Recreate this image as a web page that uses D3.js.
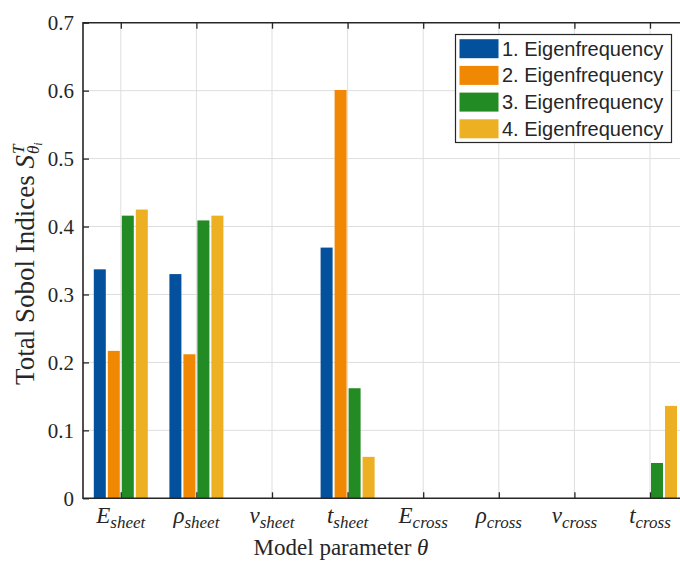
<html>
<head>
  <script src="https://d3js.org/d3.v7.min.js"></script>
  <style>
    body { margin: 0; background: #fff; }
    svg text { fill: #262626; }
  </style>
</head>
<body>
<svg id="chart"></svg>
<script type="text/javascript">
// chart data
var params = [
  { sym: "E", sub: "sheet" },
  { sym: "\u03C1", sub: "sheet" },
  { sym: "\u03BD", sub: "sheet" },
  { sym: "t", sub: "sheet" },
  { sym: "E", sub: "cross" },
  { sym: "\u03C1", sub: "cross" },
  { sym: "\u03BD", sub: "cross" },
  { sym: "t", sub: "cross" }
];
var seriesNames = ["1. Eigenfrequency", "2. Eigenfrequency", "3. Eigenfrequency", "4. Eigenfrequency"];
var eig1 = [0.337, 0.330, 0, 0.369, 0, 0, 0, 0];
var eig2 = [0.217, 0.212, 0, 0.601, 0, 0, 0, 0];
var eig3 = [0.416, 0.409, 0, 0.162, 0, 0, 0, 0.052];
var eig4 = [0.425, 0.416, 0, 0.061, 0, 0, 0, 0.136];
var yTicks = [0, 0.1, 0.2, 0.3, 0.4, 0.5, 0.6, 0.7];
var colors = ["#03509d", "#f08804", "#238b23", "#edb022"];

var series = [eig1, eig2, eig3, eig4];

var w = 680;
var h = 563;
var padLeft = 83, padTop = 22.7, padBottom = 498.3;

var svg = d3.select("#chart")
    .attr("width", w)
    .attr("height", h);

var xScale = d3.scaleLinear()
    .domain([0.5, 8.5])
    .range([padLeft, padLeft + 8 * 75.6]);
var padRight = xScale(8.5);

var yScale = d3.scaleLinear()
    .domain([0, 0.7])
    .range([padBottom, padTop]);

// grid lines
svg.append("g")
    .selectAll("line")
    .data(d3.range(1, 9))
    .enter()
    .append("line")
    .attr("x1", function (d) { return xScale(d); })
    .attr("x2", function (d) { return xScale(d); })
    .attr("y1", padTop)
    .attr("y2", padBottom)
    .attr("stroke", "#dedede")
    .attr("stroke-width", 1);

svg.append("g")
    .selectAll("line")
    .data(yTicks.slice(1, -1))
    .enter()
    .append("line")
    .attr("x1", padLeft)
    .attr("x2", padRight)
    .attr("y1", function (d) { return yScale(d); })
    .attr("y2", function (d) { return yScale(d); })
    .attr("stroke", "#dedede")
    .attr("stroke-width", 1);

// bars
var barStep = 14 / 75.6;
var barW = xScale(0.5 + 12 / 75.6) - xScale(0.5);
series.forEach(function (vals, si) {
    svg.append("g")
        .selectAll("rect")
        .data(vals)
        .enter()
        .append("rect")
        .attr("x", function (d, i) { return xScale(i + 1 + (si - 1.5) * barStep) - barW / 2; })
        .attr("y", function (d) { return yScale(d); })
        .attr("width", barW)
        .attr("height", function (d) { return yScale(0) - yScale(d); })
        .attr("fill", colors[si]);
});

// axes
var yAxis = d3.axisLeft(yScale)
    .tickValues(yTicks)
    .tickFormat(function (d) { return d === 0 ? "0" : d3.format(".1f")(d); })
    .tickSizeInner(-6)
    .tickSizeOuter(0)
    .tickPadding(9);

var gy = svg.append("g")
    .attr("transform", "translate(" + padLeft + ",0)")
    .call(yAxis);
gy.select(".domain").remove();
gy.selectAll("line").attr("stroke", "#262626").attr("stroke-width", 1.3);
gy.selectAll("text")
    .style("font-family", "'Liberation Serif', serif")
    .style("font-size", "21px")
    .attr("fill", "#262626");

var xAxis = d3.axisBottom(xScale)
    .tickValues(d3.range(1, 9))
    .tickFormat("")
    .tickSizeInner(-6)
    .tickSizeOuter(0);

var gx = svg.append("g")
    .attr("transform", "translate(0," + padBottom + ")")
    .call(xAxis);
gx.select(".domain").remove();
gx.selectAll("line").attr("stroke", "#262626").attr("stroke-width", 1.3);

var xAxisTop = d3.axisTop(xScale)
    .tickValues(d3.range(1, 9))
    .tickFormat("")
    .tickSizeInner(-6)
    .tickSizeOuter(0);
var gxt = svg.append("g")
    .attr("transform", "translate(0," + padTop + ")")
    .call(xAxisTop);
gxt.select(".domain").remove();
gxt.selectAll("line").attr("stroke", "#262626").attr("stroke-width", 1.3);

// box
svg.append("path")
    .attr("d", "M" + padRight + "," + padTop + "H" + padLeft + "V" + padBottom + "H" + padRight)
    .attr("fill", "none")
    .attr("stroke", "#262626")
    .attr("stroke-width", 1.6);

// x tick labels with subscripts
var xl = svg.append("g")
    .selectAll("text")
    .data(params)
    .enter()
    .append("text")
    .attr("x", function (d, i) { return xScale(i + 1); })
    .attr("y", 523)
    .attr("text-anchor", "middle")
    .style("font-family", "'Liberation Serif', serif")
    .style("font-style", "italic");
xl.append("tspan")
    .style("font-size", "23px")
    .text(function (d) { return d.sym; });
xl.append("tspan")
    .attr("dy", 5)
    .style("font-size", "17px")
    .text(function (d) { return d.sub; });

// x label
svg.append("text")
    .attr("x", 341)
    .attr("y", 555)
    .attr("text-anchor", "middle")
    .style("font-family", "'Liberation Serif', serif")
    .style("font-size", "23px")
    .text("Model parameter ")
    .append("tspan")
    .style("font-style", "italic")
    .text("\u03B8");

// y label
var yl = svg.append("g");
var ylt = yl.append("text")
    .attr("x", 0)
    .attr("y", 0)
    .style("font-family", "'Liberation Serif', serif")
    .style("font-size", "27px")
    .text("Total Sobol Indices ");
ylt.append("tspan").style("font-style", "italic").text("S");
var mainLen = ylt.node().getComputedTextLength();
yl.append("text")
    .attr("x", mainLen + 1)
    .attr("y", -10)
    .style("font-family", "'Liberation Serif', serif")
    .style("font-style", "italic")
    .style("font-size", "17px")
    .text("T");
var sub = yl.append("text")
    .attr("x", mainLen + 1)
    .attr("y", 5)
    .style("font-family", "'Liberation Serif', serif")
    .style("font-style", "italic")
    .style("font-size", "17px")
    .text("\u03B8");
sub.append("tspan")
    .attr("dy", 3)
    .style("font-size", "12px")
    .text("i");
var totalLen = mainLen + 16;
yl.attr("transform", "translate(34," + (262 + totalLen / 2) + ") rotate(-90)");

// legend
var lg = svg.append("g");
lg.append("rect")
    .attr("x", 455.5)
    .attr("y", 34.5)
    .attr("width", 216)
    .attr("height", 108)
    .attr("fill", "#fff")
    .attr("stroke", "#262626")
    .attr("stroke-width", 1.2);
seriesNames.forEach(function (name, i) {
    var cy = 48.7 + i * 26.7;
    lg.append("rect")
        .attr("x", 459.5)
        .attr("y", cy - 9.5)
        .attr("width", 39)
        .attr("height", 19)
        .attr("fill", colors[i]);
    lg.append("text")
        .attr("x", 502)
        .attr("y", cy + 7)
        .style("font-family", "'Liberation Sans', Arial, sans-serif")
        .style("font-size", "20px")
        .text(name);
});
</script>
</body>
</html>
